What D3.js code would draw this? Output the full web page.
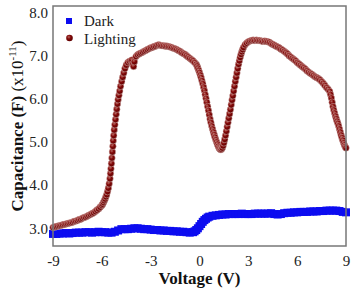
<!DOCTYPE html>
<html>
<head>
<meta charset="utf-8">
<style>
    body { margin: 0; background: #fff; }
    svg { display: block; }
    svg text { font-family: 'Liberation Serif', 'Times New Roman', Times, serif; }
    .tick text { font-size: 15px; fill: #222; font-family: 'Liberation Serif', 'Times New Roman', Times, serif; }
    .domain { display: none; }
    .axis-title { font-size: 17px; font-weight: bold; fill: #111; }
    .legend-label { font-size: 15px; fill: #222; }
</style>
</head>
<body>
<svg width="352" height="290"></svg>

<script src="https://d3js.org/d3.v7.min.js"></script>
<script>
    // Dark curve: [voltage, capacitance x1e-11]
    let dark = [
        [-9.0, 2.87], [-8.8, 2.87], [-8.6, 2.88], [-8.4, 2.88], [-8.2, 2.89], [-8.0, 2.88],
        [-7.8, 2.89], [-7.6, 2.90], [-7.4, 2.90], [-7.2, 2.90], [-7.0, 2.91], [-6.8, 2.91],
        [-6.6, 2.90], [-6.4, 2.91], [-6.2, 2.92], [-6.0, 2.91], [-5.8, 2.91], [-5.6, 2.90],
        [-5.4, 2.90], [-5.2, 2.92], [-5.0, 2.95], [-4.8, 2.98], [-4.6, 2.98], [-4.4, 2.98],
        [-4.2, 2.99], [-4.0, 3.00], [-3.8, 3.00], [-3.6, 2.99], [-3.4, 2.98], [-3.2, 2.98],
        [-3.0, 2.97], [-2.8, 2.96], [-2.6, 2.96], [-2.4, 2.95], [-2.2, 2.95], [-2.0, 2.94],
        [-1.8, 2.94], [-1.6, 2.93], [-1.4, 2.93], [-1.2, 2.92], [-1.0, 2.92], [-0.8, 2.91],
        [-0.6, 2.90], [-0.4, 2.91], [-0.3, 2.93], [-0.2, 2.96], [-0.1, 3.00], [0.0, 3.05],
        [0.1, 3.10], [0.2, 3.15], [0.3, 3.19], [0.4, 3.22], [0.5, 3.25], [0.6, 3.27],
        [0.8, 3.29], [1.0, 3.30], [1.2, 3.31], [1.4, 3.32], [1.6, 3.32], [1.8, 3.33],
        [2.0, 3.33], [2.2, 3.33], [2.4, 3.33], [2.6, 3.34], [2.8, 3.33], [3.0, 3.33],
        [3.2, 3.33], [3.4, 3.34], [3.6, 3.34], [3.8, 3.34], [4.0, 3.34], [4.2, 3.34],
        [4.4, 3.35], [4.6, 3.33], [4.8, 3.32], [5.0, 3.33], [5.2, 3.35], [5.4, 3.36],
        [5.6, 3.36], [5.8, 3.37], [6.0, 3.37], [6.2, 3.38], [6.4, 3.38], [6.6, 3.38],
        [6.8, 3.39], [7.0, 3.39], [7.2, 3.39], [7.4, 3.40], [7.6, 3.40], [7.8, 3.41],
        [8.0, 3.41], [8.2, 3.41], [8.4, 3.41], [8.6, 3.40], [8.8, 3.38], [9.0, 3.37]
    ]

    // Lighting curve: [voltage, capacitance x1e-11]
    let lighting = [
        [-9.0, 3.02], [-8.9, 3.03], [-8.8, 3.04], [-8.7, 3.05], [-8.6, 3.06], [-8.5, 3.07],
        [-8.4, 3.08], [-8.3, 3.09], [-8.2, 3.10], [-8.1, 3.11], [-8.0, 3.12], [-7.9, 3.13],
        [-7.8, 3.14], [-7.7, 3.16], [-7.6, 3.17], [-7.5, 3.18], [-7.4, 3.20], [-7.3, 3.21],
        [-7.2, 3.23], [-7.1, 3.25], [-7.0, 3.26], [-6.9, 3.28], [-6.8, 3.30], [-6.7, 3.32],
        [-6.6, 3.34], [-6.5, 3.36], [-6.4, 3.39], [-6.3, 3.42], [-6.2, 3.45], [-6.1, 3.49],
        [-6.0, 3.53], [-5.95, 3.56], [-5.9, 3.60], [-5.85, 3.64], [-5.8, 3.68], [-5.75, 3.73],
        [-5.7, 3.78], [-5.65, 3.85], [-5.6, 3.93], [-5.55, 4.03], [-5.5, 4.15], [-5.47, 4.27],
        [-5.44, 4.38], [-5.41, 4.50], [-5.38, 4.63], [-5.35, 4.77], [-5.32, 4.90], [-5.3, 5.03],
        [-5.27, 5.15], [-5.24, 5.28], [-5.2, 5.40], [-5.16, 5.52], [-5.12, 5.64], [-5.08, 5.76],
        [-5.04, 5.88], [-5.0, 5.98], [-4.95, 6.08], [-4.9, 6.18], [-4.85, 6.29], [-4.78, 6.40],
        [-4.72, 6.50], [-4.65, 6.60], [-4.58, 6.70], [-4.5, 6.78], [-4.4, 6.84], [-4.3, 6.87],
        [-4.2, 6.88], [-4.15, 6.90], [-4.1, 6.80], [-4.05, 6.75], [-4.0, 6.86], [-3.9, 6.98],
        [-3.8, 7.02], [-3.7, 7.04], [-3.6, 7.06], [-3.5, 7.08], [-3.4, 7.10], [-3.3, 7.12],
        [-3.2, 7.14], [-3.1, 7.16], [-3.0, 7.18], [-2.9, 7.19], [-2.8, 7.21], [-2.7, 7.22],
        [-2.6, 7.24], [-2.5, 7.25], [-2.4, 7.24], [-2.3, 7.23], [-2.2, 7.23], [-2.1, 7.22],
        [-2.0, 7.22], [-1.9, 7.21], [-1.8, 7.20], [-1.7, 7.19], [-1.6, 7.17], [-1.5, 7.16],
        [-1.4, 7.14], [-1.3, 7.12], [-1.2, 7.10], [-1.1, 7.07], [-1.0, 7.05], [-0.9, 7.03],
        [-0.8, 7.00], [-0.7, 6.97], [-0.6, 6.94], [-0.5, 6.91], [-0.4, 6.88], [-0.3, 6.84],
        [-0.2, 6.80], [-0.15, 6.76], [-0.1, 6.71], [-0.05, 6.66], [0.0, 6.61], [0.05, 6.55],
        [0.1, 6.49], [0.15, 6.42], [0.2, 6.35], [0.25, 6.27], [0.3, 6.19], [0.35, 6.10],
        [0.4, 6.01], [0.45, 5.92], [0.5, 5.82], [0.55, 5.73], [0.6, 5.63], [0.65, 5.53],
        [0.7, 5.45], [0.75, 5.37], [0.8, 5.30], [0.85, 5.23], [0.9, 5.17], [0.95, 5.11],
        [1.0, 5.05], [1.05, 5.00], [1.1, 4.95], [1.15, 4.90], [1.2, 4.86], [1.25, 4.84],
        [1.3, 4.82], [1.35, 4.83], [1.4, 4.86], [1.45, 4.91], [1.5, 4.98], [1.55, 5.06],
        [1.6, 5.15], [1.65, 5.25], [1.7, 5.35], [1.75, 5.45], [1.8, 5.55], [1.85, 5.65],
        [1.9, 5.75], [1.95, 5.86], [2.0, 5.97], [2.05, 6.07], [2.1, 6.18], [2.15, 6.29],
        [2.2, 6.40], [2.25, 6.50], [2.3, 6.60], [2.35, 6.70], [2.4, 6.80], [2.45, 6.88],
        [2.5, 6.96], [2.55, 7.03], [2.6, 7.09], [2.65, 7.14], [2.7, 7.19], [2.8, 7.25],
        [2.9, 7.29], [3.0, 7.32], [3.1, 7.34], [3.2, 7.35], [3.3, 7.36], [3.4, 7.35],
        [3.5, 7.36], [3.6, 7.35], [3.7, 7.35], [3.8, 7.34], [3.9, 7.33], [4.0, 7.34],
        [4.1, 7.33], [4.2, 7.32], [4.3, 7.31], [4.4, 7.28], [4.5, 7.26], [4.6, 7.24],
        [4.7, 7.22], [4.8, 7.20], [4.9, 7.18], [5.0, 7.15], [5.1, 7.13], [5.2, 7.10],
        [5.3, 7.07], [5.4, 7.04], [5.5, 7.00], [5.6, 6.97], [5.7, 6.94], [5.8, 6.91],
        [5.9, 6.88], [6.0, 6.84], [6.1, 6.81], [6.2, 6.78], [6.3, 6.75], [6.4, 6.72],
        [6.5, 6.69], [6.6, 6.65], [6.7, 6.62], [6.8, 6.59], [6.9, 6.57], [7.0, 6.54],
        [7.1, 6.51], [7.2, 6.49], [7.3, 6.47], [7.4, 6.44], [7.5, 6.40], [7.6, 6.36],
        [7.7, 6.31], [7.8, 6.26], [7.9, 6.22], [8.0, 6.17], [8.05, 6.10], [8.1, 6.02],
        [8.15, 5.92], [8.2, 5.82], [8.25, 5.74], [8.3, 5.67], [8.35, 5.60], [8.4, 5.54],
        [8.45, 5.48], [8.5, 5.43], [8.55, 5.37], [8.6, 5.30], [8.65, 5.23], [8.7, 5.16],
        [8.75, 5.10], [8.8, 5.04], [8.85, 4.98], [8.9, 4.93], [8.95, 4.89], [9.0, 4.86]
    ]

    let xTicks = [-9, -6, -3, 0, 3, 6, 9]
    let yTicks = [3, 4, 5, 6, 7, 8]
    let legendNames = ["Dark", "Lighting"]

    let margin = { top: 6, right: 6, bottom: 44, left: 53 }
    let width = 352
    let height = 290

    let svg = d3.select("svg")

    let x = d3.scaleLinear()
        .domain([-9, 9])
        .range([margin.left, width - margin.right])

    let y = d3.scaleLinear()
        .domain([2.59, 8.15])
        .range([height - margin.bottom, margin.top])

    // gradient for the shiny red beads
    let defs = svg.append("defs")
    let grad = defs.append("radialGradient")
        .attr("id", "bead")
        .attr("cx", "40%").attr("cy", "35%").attr("r", "65%")
    grad.append("stop").attr("offset", "0%").attr("stop-color", "#b86a62")
    grad.append("stop").attr("offset", "45%").attr("stop-color", "#820808")
    grad.append("stop").attr("offset", "100%").attr("stop-color", "#5e0000")

    // axes (labels only, no tick marks); plain hyphen for negatives
    svg.append("g")
        .attr("transform", `translate(0,${height - margin.bottom})`)
        .call(d3.axisBottom(x).tickValues(xTicks).tickSize(0).tickPadding(9).tickFormat(d => String(d)))
        .attr("font-family", null)

    svg.append("g")
        .attr("transform", `translate(${margin.left},0)`)
        .call(d3.axisLeft(y).tickValues(yTicks).tickSize(0).tickPadding(5).tickFormat(d => d.toFixed(1)))
        .attr("font-family", null)

    // dark series: blue squares
    let sq = 8
    svg.append("g")
        .selectAll("rect")
        .data(dark)
        .join("rect")
        .attr("x", d => x(d[0]) - sq / 2)
        .attr("y", d => y(d[1]) - sq / 2)
        .attr("width", sq)
        .attr("height", sq)
        .attr("fill", "#0c0cf0")

    // lighting series: red beads
    svg.append("g")
        .selectAll("circle")
        .data(lighting)
        .join("circle")
        .attr("cx", d => x(d[0]))
        .attr("cy", d => y(d[1]))
        .attr("r", 3.3)
        .attr("fill", "url(#bead)")
        .attr("stroke", "#e0c0bc")
        .attr("stroke-width", 0.5)

    // frame
    svg.append("rect")
        .attr("x", margin.left)
        .attr("y", margin.top)
        .attr("width", width - margin.left - margin.right)
        .attr("height", height - margin.top - margin.bottom)
        .attr("fill", "none")
        .attr("stroke", "#777")
        .attr("stroke-width", 1.5)

    // legend
    let lg = svg.append("g")
    lg.append("rect")
        .attr("x", 66).attr("y", 18).attr("width", 6).attr("height", 6)
        .attr("fill", "#0c0cf0")
    lg.append("circle")
        .attr("cx", 69.5).attr("cy", 38).attr("r", 3.3)
        .attr("fill", "url(#bead)")
    lg.selectAll("text")
        .data(legendNames)
        .join("text")
        .attr("class", "legend-label")
        .attr("x", 84)
        .attr("y", (d, i) => 26 + i * 18)
        .text(d => d)

    // axis titles
    svg.append("text")
        .attr("class", "axis-title")
        .attr("x", x(0))
        .attr("y", 284)
        .attr("text-anchor", "middle")
        .text("Voltage (V)")

    let yTitle = svg.append("text")
        .attr("class", "axis-title")
        .attr("transform", "translate(23,126) rotate(-90)")
        .attr("text-anchor", "middle")
    yTitle.append("tspan").text("Capacitance (F) ")
    yTitle.append("tspan").attr("font-weight", "normal").text("(x10")
    yTitle.append("tspan").attr("font-weight", "normal").attr("font-size", "11px").attr("dy", -7).text("-11")
    yTitle.append("tspan").attr("font-weight", "normal").attr("dy", 7).text(")")
</script>
</body>
</html>
